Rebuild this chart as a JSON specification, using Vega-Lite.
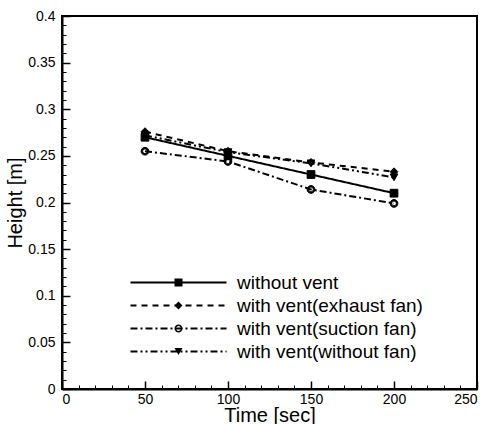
{
  "$schema": "https://vega.github.io/schema/vega-lite/v6.json",
  "autosize": {"type": "none"},
  "padding": {"left": 62, "top": 16, "right": 12, "bottom": 35},
  "width": 415,
  "height": 373,
  "background": "white",
  "config": {
    "font": "Liberation Sans",
    "view": {"stroke": "black", "strokeWidth": 2},
    "axis": {"domainColor": "black", "domainWidth": 2, "tickColor": "black", "labelColor": "black", "titleColor": "black", "grid": false, "labelFont": "Liberation Sans", "titleFont": "Liberation Sans", "labelFontSize": 14, "titleFontSize": 20, "titleFontWeight": "normal"}
  },
  "data": {
    "values": [
      {"time": 50, "height": 0.270, "series": "without  vent", "s": "without  vent"},
      {"time": 100, "height": 0.250, "series": "without  vent", "s": "without  vent"},
      {"time": 150, "height": 0.230, "series": "without  vent", "s": "without  vent"},
      {"time": 200, "height": 0.210, "series": "without  vent", "s": "without  vent"},
      {"time": 50, "height": 0.276, "series": "with vent(exhaust fan)", "s": "with vent(exhaust fan)"},
      {"time": 100, "height": 0.255, "series": "with vent(exhaust fan)", "s": "with vent(exhaust fan)"},
      {"time": 150, "height": 0.243, "series": "with vent(exhaust fan)", "s": "with vent(exhaust fan)"},
      {"time": 200, "height": 0.233, "series": "with vent(exhaust fan)", "s": "with vent(exhaust fan)"},
      {"time": 50, "height": 0.255, "series": "with vent(suction fan)", "s": "with vent(suction fan)"},
      {"time": 100, "height": 0.244, "series": "with vent(suction fan)", "s": "with vent(suction fan)"},
      {"time": 150, "height": 0.214, "series": "with vent(suction fan)", "s": "with vent(suction fan)"},
      {"time": 200, "height": 0.199, "series": "with vent(suction fan)", "s": "with vent(suction fan)"},
      {"time": 50, "height": 0.272, "series": "with vent(without fan)", "s": "with vent(without fan)"},
      {"time": 100, "height": 0.254, "series": "with vent(without fan)", "s": "with vent(without fan)"},
      {"time": 150, "height": 0.242, "series": "with vent(without fan)", "s": "with vent(without fan)"},
      {"time": 200, "height": 0.227, "series": "with vent(without fan)", "s": "with vent(without fan)"}
    ]
  },
  "resolve": {"axis": {"x": "independent", "y": "independent"}},
  "layer": [
    {
      "mark": {"type": "line", "color": "black", "strokeWidth": 2},
      "encoding": {
        "x": {"field": "time", "type": "quantitative", "scale": {"domain": [0, 250], "nice": false},
              "axis": {"orient": "bottom", "values": [0, 50, 100, 150, 200, 250], "tickSize": -8, "tickWidth": 1.5, "labelPadding": 11, "title": "Time [sec]", "titlePadding": -1}},
        "y": {"field": "height", "type": "quantitative", "scale": {"domain": [0, 0.4], "nice": false, "zero": false},
              "axis": {"orient": "left", "values": [0, 0.05, 0.1, 0.15, 0.2, 0.25, 0.3, 0.35, 0.4], "format": ".2~f", "tickSize": -8, "tickWidth": 1.5, "labelPadding": 15, "title": "Height [m]", "titlePadding": 2}},
        "strokeDash": {"field": "series", "type": "nominal",
          "scale": {"domain": ["without  vent", "with vent(exhaust fan)", "with vent(suction fan)", "with vent(without fan)"],
                    "range": [[1, 0], [6, 5], [7, 3, 2, 3], [7, 3, 2, 3, 2, 3]]},
          "legend": {"orient": "none", "legendX": 107, "legendY": 257, "title": null, "padding": 0,
                     "symbolType": "M-12,0H12", "symbolSize": 64, "symbolStrokeColor": "black", "symbolStrokeWidth": 2,
                     "labelFont": "Liberation Sans", "labelFontSize": 19, "labelColor": "black", "labelOffset": 49, "rowPadding": 3, "labelLimit": 300}}
      }
    },
    {
      "mark": {"type": "point", "filled": true, "fill": "black", "stroke": "black", "strokeWidth": 1, "size": 60, "opacity": 1},
      "encoding": {
        "x": {"field": "time", "type": "quantitative",
              "axis": {"orient": "bottom", "values": [0,10,20,30,40,50,60,70,80,90,100,110,120,130,140,150,160,170,180,190,200,210,220,230,240,250], "tickSize": -4, "tickWidth": 1, "labels": false, "domain": false, "title": null}},
        "y": {"field": "height", "type": "quantitative",
              "axis": {"orient": "left", "values": [0,0.01,0.02,0.03,0.04,0.05,0.06,0.07,0.08,0.09,0.1,0.11,0.12,0.13,0.14,0.15,0.16,0.17,0.18,0.19,0.2,0.21,0.22,0.23,0.24,0.25,0.26,0.27,0.28,0.29,0.3,0.31,0.32,0.33,0.34,0.35,0.36,0.37,0.38,0.39,0.4], "tickSize": -4, "tickWidth": 1, "labels": false, "domain": false, "title": null}},
        "shape": {"field": "s", "type": "nominal",
          "sort": ["without  vent", "with vent(exhaust fan)", "with vent(suction fan)", "with vent(without fan)"],
          "scale": {"range": ["square", "diamond", "M-1,0A1,1 0 1,0 1,0A1,1 0 1,0 -1,0ZM-0.6,0A0.6,0.6 0 1,1 0.6,0A0.6,0.6 0 1,1 -0.6,0Z", "triangle-down"]},
          "legend": {"orient": "none", "legendX": 107, "legendY": 257, "title": null, "padding": 0,
                     "symbolSize": 64, "symbolStrokeColor": "black", "symbolFillColor": "black", "symbolStrokeWidth": 1,
                     "labelFont": "Liberation Sans", "labelFontSize": 19, "labelColor": "transparent", "labelOffset": 49, "rowPadding": 3, "labelLimit": 300}}
      }
    }
  ]
}
